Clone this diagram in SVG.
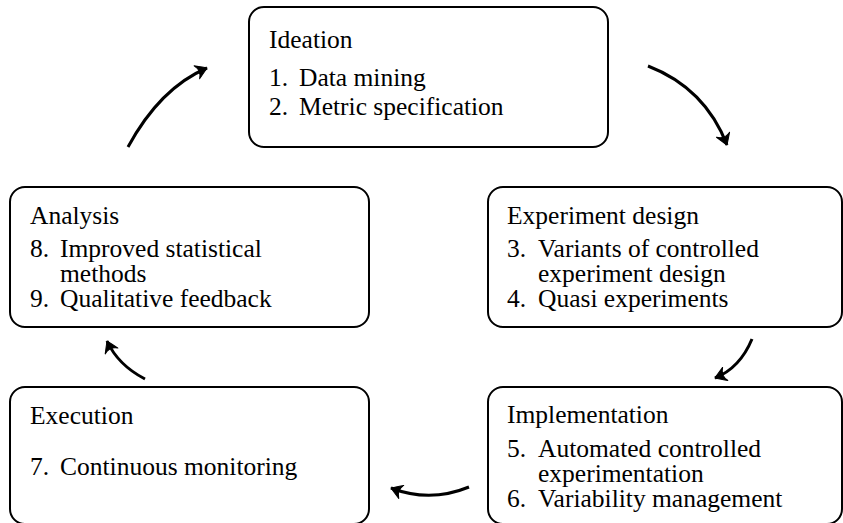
<svg xmlns="http://www.w3.org/2000/svg" width="843" height="523" viewBox="0 0 843 523">
<style>
.box{fill:#fff;stroke:#000;stroke-width:2}
.t{font-family:'Liberation Serif','DejaVu Serif',serif;font-size:25.5px;fill:#000}
.arr{fill:none;stroke:#000;stroke-width:3;marker-end:url(#tip)}
</style>
<defs>
<marker id="tip" markerUnits="userSpaceOnUse" markerWidth="30" markerHeight="30" viewBox="-15 -15 30 30" refX="0" refY="0" orient="auto">
<path d="M-11,-7 Q-3,-2 0,0 Q-3,2 -11,7 Q-6,0 -11,-7 Z" fill="#000" stroke="#000" stroke-width="1" stroke-linejoin="round"/>
</marker>
</defs>
<g id="connectors">
<path class="arr" d="M128,147 Q160,88 207,68"/>
<path class="arr" d="M648,66 Q705,88 727,145"/>
<path class="arr" d="M752,339 Q740,368 715,378"/>
<path class="arr" d="M469,487 Q430,503 391,488"/>
<path class="arr" d="M145,379 Q118,365 107,341"/>
</g>
<g id="ideation" class="t">
<rect class="box" x="249" y="7" width="359" height="140" rx="15"/>
<text x="269" y="48">Ideation</text>
<text x="269" y="86">1.</text><text x="299" y="86">Data mining</text>
<text x="269" y="115">2.</text><text x="299" y="115">Metric specification</text>
</g>
<g id="experiment-design" class="t">
<rect class="box" x="488" y="187" width="354" height="140" rx="15"/>
<text x="507" y="224">Experiment design</text>
<text x="507" y="257">3.</text><text x="538" y="257">Variants of controlled</text>
<text x="538" y="282">experiment design</text>
<text x="507" y="307">4.</text><text x="538" y="307">Quasi experiments</text>
</g>
<g id="implementation" class="t">
<rect class="box" x="488" y="387" width="354" height="137" rx="15"/>
<text x="507" y="423">Implementation</text>
<text x="507" y="457">5.</text><text x="538" y="457">Automated controlled</text>
<text x="538" y="482">experimentation</text>
<text x="507" y="507">6.</text><text x="538" y="507">Variability management</text>
</g>
<g id="execution" class="t">
<rect class="box" x="10" y="387" width="359" height="137" rx="15"/>
<text x="30" y="424">Execution</text>
<text x="30" y="475">7.</text><text x="60" y="475">Continuous monitoring</text>
</g>
<g id="analysis" class="t">
<rect class="box" x="10" y="187" width="359" height="140" rx="15"/>
<text x="30" y="224">Analysis</text>
<text x="30" y="257">8.</text><text x="60" y="257">Improved statistical</text>
<text x="60" y="282">methods</text>
<text x="30" y="307">9.</text><text x="60" y="307">Qualitative feedback</text>
</g>
</svg>
